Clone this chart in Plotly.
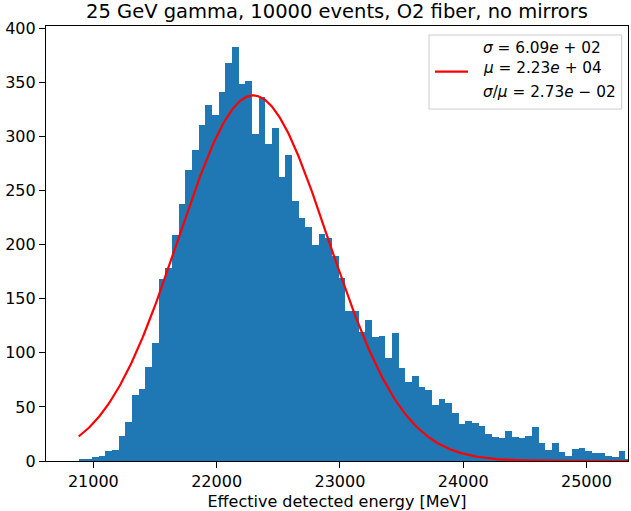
import numpy as np
import plotly.graph_objects as go

# ---- data ----
bin_start = 20881.0          # left edge of first bin [MeV]
bin_width = 54.07            # bin width [MeV]
counts = [1, 1, 4, 5, 9, 10, 23, 36, 61, 67, 87, 109,
          168, 178, 209, 238, 269, 288, 311, 329, 320, 341, 368, 383,
          349, 351, 302, 337, 293, 308, 263, 283, 240, 225, 216, 200,
          210, 206, 190, 169, 139, 139, 119, 130, 115, 116, 95, 118,
          86, 73, 79, 68, 66, 52, 57, 54, 44, 34, 37, 35,
          32, 25, 22, 21, 28, 22, 21, 23, 31, 17, 10, 17,
          8, 5, 11, 12, 9, 7, 7, 5, 4, 9, 1]

# Gaussian fit parameters (legend)
fit_sigma = 609.0
fit_mu = 22297.0
fit_amp = 338.0
fit_xmin = 20881.0
fit_xmax = 25340.0

legend_lines = ["<i>σ</i> = 6.09<i>e</i> + 02",
                "<i>μ</i> = 2.23<i>e</i> + 04",
                "<i>σ</i>/<i>μ</i> = 2.73<i>e</i> − 02"]
title_text = "25 GeV gamma, 10000 events, O2 fiber, no mirrors"
xlabel = "Effective detected energy [MeV]"
xticks = [21000, 22000, 23000, 24000, 25000]
yticks = [0, 50, 100, 150, 200, 250, 300, 350, 400]

# ---- build ----
centers = [bin_start + bin_width * (i + 0.5) for i in range(len(counts))]
xf = np.linspace(fit_xmin, fit_xmax, 500)
yf = fit_amp * np.exp(-0.5 * ((xf - fit_mu) / fit_sigma) ** 2)

FONT = "DejaVu Sans"

fig = go.Figure()
fig.add_trace(go.Bar(x=centers, y=counts, width=bin_width,
                     marker=dict(color="#1f77b4", line=dict(width=0)),
                     showlegend=False))
fig.add_trace(go.Scatter(x=xf, y=yf, mode="lines",
                         line=dict(color="red", width=2.2),
                         name="fit", showlegend=False))

W, H = 631, 511
L, R, T, B = 46, 3, 26, 50
PW, PH = W - L - R, H - T - B


def px(x):
    return (x - L) / PW


def py(y):
    return (H - B - y) / PH


# legend box (matplotlib-style)
fig.add_shape(type="rect", xref="paper", yref="paper",
              x0=px(429), x1=px(621.7), y0=py(109), y1=py(35),
              line=dict(color="#cccccc", width=1),
              fillcolor="rgba(255,255,255,0.8)")
fig.add_shape(type="line", xref="paper", yref="paper",
              x0=px(435), x1=px(468), y0=py(71.7), y1=py(71.7),
              line=dict(color="red", width=2.2))
for txt, yc in zip(legend_lines, [48, 67.5, 91.5]):
    fig.add_annotation(text=txt, xref="paper", yref="paper",
                       x=px(481), y=py(yc), xanchor="left", yanchor="middle",
                       showarrow=False,
                       font=dict(family=FONT, size=15.3, color="black"))

fig.update_layout(
    width=W, height=H,
    margin=dict(l=L, r=R, t=T, b=B, pad=0),
    paper_bgcolor="white", plot_bgcolor="white",
    bargap=0,
    showlegend=False,
    font=dict(family=FONT, size=16, color="black"),
    title=dict(text=title_text, font=dict(family=FONT, size=19.5, color="black"),
               x=(L + PW / 2) / W, xanchor="center",
               y=1 - 11 / H, yanchor="middle", yref="container"),
    xaxis=dict(range=[20616, 25337], tickvals=xticks, tickformat="d",
               ticks="outside", ticklen=6, tickwidth=1.2, tickcolor="black",
               tickfont=dict(family=FONT, size=16),
               showline=True, linecolor="black", linewidth=1.2, mirror=True,
               showgrid=False, zeroline=False,
               title=dict(text=xlabel, font=dict(family=FONT, size=16), standoff=5)),
    yaxis=dict(range=[0, 402.2], tickvals=yticks,
               ticks="outside", ticklen=6, tickwidth=1.2, tickcolor="black",
               tickfont=dict(family=FONT, size=16),
               showline=True, linecolor="black", linewidth=1.2, mirror=True,
               showgrid=False, zeroline=False),
)

fig.write_html("out.html", config={"displayModeBar": False})
